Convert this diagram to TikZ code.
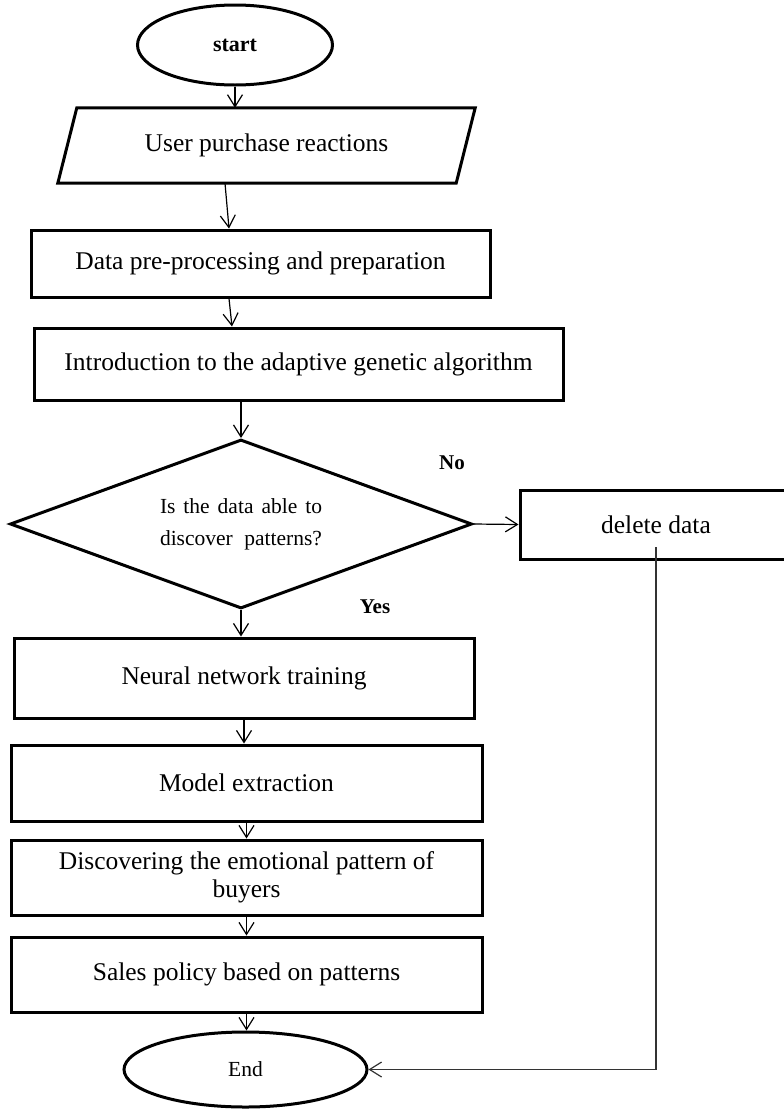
\documentclass[tikz,border=0pt]{standalone}
\usepackage{fontspec}
\setmainfont{Liberation Serif}
\usetikzlibrary{shapes.geometric,arrows.meta,calc}

\newcommand\mainsz{\fontsize{25.5}{28}\selectfont}

\tikzset{
  box/.style={draw, rectangle, line width=3pt, inner sep=0pt, font=\mainsz, align=center},
  oval/.style={draw, ellipse, line width=3pt, inner sep=0pt},
  flow/.style={-{Straight Barb[length=12pt,width=15pt]}, line width=1.2pt},
  lbl/.style={font=\fontsize{21}{24}\selectfont\bfseries},
}

\begin{document}
\begin{tikzpicture}[x=1pt,y=-1pt]
\useasboundingbox (0,0) rectangle (784,1109);
\clip (0,0) rectangle (784,1109);
\fill[white] (0,0) rectangle (784,1109);

% terminals, steps and the decision
\node[oval, minimum width=195pt, minimum height=80pt, font=\fontsize{22}{26}\selectfont\bfseries] (start) at (235,45) {start};

\node[minimum width=398pt, minimum height=75pt, inner sep=0pt, font=\mainsz] (input) at (266.5,145.5) {User purchase reactions};
\draw[line width=3pt, line join=miter]
  ($(input.north west)+(9.5,0)$) -- ($(input.north east)+(9.5,0)$) --
  ($(input.south east)+(-9.5,0)$) -- ($(input.south west)+(-9.5,0)$) -- cycle;

\node[box, minimum width=459pt, minimum height=67pt] (prep) at (260.5,263.5) {Data pre-processing and preparation};
\node[box, minimum width=529pt, minimum height=72pt] (algo) at (298.5,364) {Introduction to the adaptive genetic algorithm};

\node[draw, diamond, line width=3pt, minimum width=462pt, minimum height=169pt, inner sep=0pt, aspect=2.73,
      font=\fontsize{21.5}{32}\selectfont, align=center] (check) at (241,524)
  {\makebox[162pt][s]{Is the data able to}\\\makebox[162pt][s]{discover patterns?}};

\node[box, minimum width=272pt, minimum height=69pt] (del) at (656,524.5) {delete data};
\node[lbl] (no) at (452,463) {No};
\node[lbl] (yes) at (375,607) {Yes};

\node[box, minimum width=460pt, minimum height=80pt] (nn) at (244,678) {Neural network training};
\node[box, minimum width=471pt, minimum height=76pt] (model) at (246.5,783) {Model extraction};
\node[box, minimum width=471pt, minimum height=75pt] (disc) at (246.5,877.5) {Discovering the emotional pattern of\\buyers};
\node[box, minimum width=471pt, minimum height=75pt] (sales) at (246.5,974.5) {Sales policy based on patterns};
\node[oval, minimum width=243pt, minimum height=75pt, font=\fontsize{21.5}{25}\selectfont] (end) at (245.5,1069.5) {End};

% connectors
\draw[flow] (start.south) -- (start.south |- input.north);
\draw[flow] ($(input.south)+(-41.5,0)$) -- ($(prep.north)+(-31.5,0)$);
\draw[flow] ($(prep.south)+(-31.5,0)$) -- ($(algo.north)+(-66.5,0)$);
\draw[flow] (algo.south -| check.north) -- (check.north);
\draw[flow] (check.east) -- (del.west);
\draw[flow] (check.south) -- (check.south |- nn.north);
\draw[flow] (nn.south) -- (nn.south |- model.north);
\draw[flow] (model.south) -- (disc.north);
\draw[flow] (disc.south) -- (sales.north);
\draw[flow] (sales.south) -- (sales.south |- end.north);
\coordinate (ret) at (656,547);
\draw[flow, black!80] (ret) |- (end.east);
\end{tikzpicture}
\end{document}
